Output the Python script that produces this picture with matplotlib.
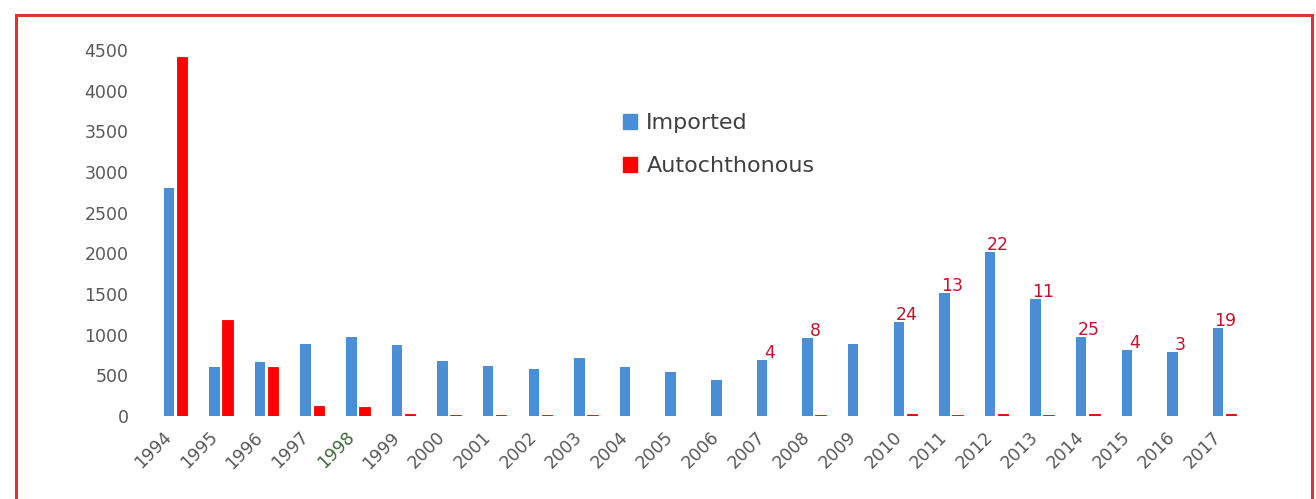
"""Imported vs autochthonous malaria cases per year, grouped bar chart."""

import matplotlib.pyplot as plt
import numpy as np
from matplotlib.patches import Patch, Rectangle

years = ["1994", "1995", "1996", "1997", "1998", "1999", "2000", "2001",
         "2002", "2003", "2004", "2005", "2006", "2007", "2008", "2009",
         "2010", "2011", "2012", "2013", "2014", "2015", "2016", "2017"]
imported = [2800, 605, 660, 890, 975, 875, 680, 620,
            580, 715, 605, 540, 445, 690, 955, 885,
            1160, 1510, 2020, 1440, 975, 810, 790, 1080]
autochthonous = [4410, 1180, 600, 125, 105, 30, 12, 10,
                 12, 12, 0, 0, 0, 4, 8, 0,
                 24, 13, 22, 11, 25, 4, 3, 19]
# case counts are printed above the bars from 2007 on
label_from = "2007"
yticks = [0, 500, 1000, 1500, 2000, 2500, 3000, 3500, 4000, 4500]

BLUE = "#4a8fd6"
RED = "#ff0000"
LABEL_RED = "#c8102e"
GREY = "#595959"

plt.rcParams["font.family"] = ["DejaVu Sans"]

W, H = 1316, 499
fig = plt.figure(figsize=(W / 100, H / 100), dpi=100)
ax = fig.add_axes([148 / W, (H - 416) / H, 1104 / W, 366 / H])

x = np.arange(len(years))
bw = 0.23
off = 0.143
ax.bar(x - off, imported, bw, color=BLUE, linewidth=0, label="Imported")
# thin outline keeps the tiny counts visible as a hairline
edges = [RED if v > 0 else "none" for v in autochthonous]
ax.bar(x + off, autochthonous, bw, color=RED, edgecolor=edges,
       linewidth=0.6, label="Autochthonous")

start = years.index(label_from)
for i in range(start, len(years)):
    if autochthonous[i] == 0:
        continue
    ax.annotate(str(autochthonous[i]), (x[i] + 0.02, imported[i]),
                xytext=(0, 1.5), textcoords="offset points",
                ha="center", va="baseline", fontsize=12.5, color=LABEL_RED)

ax.set_xlim(-0.6, 23.6)
ax.set_ylim(0, 4500)
ax.set_yticks(yticks)
ax.set_yticklabels([str(v) for v in yticks], fontsize=12.5, color=GREY)
ax.set_xticks(x)
ax.set_xticklabels(years, rotation=45, ha="right", va="bottom",
                   rotation_mode="anchor", fontsize=12.5, color=GREY)
ax.get_xticklabels()[years.index("1998")].set_color("#3f6a3a")
ax.tick_params(axis="y", length=0, pad=14)
ax.tick_params(axis="x", length=0, pad=18)
for s in ax.spines.values():
    s.set_visible(False)

handles = [Patch(color=BLUE), Patch(color=RED)]
fig.legend(handles, ["Imported", "Autochthonous"], loc="upper left",
           bbox_to_anchor=(623 / W, 1 - 113 / H), frameon=False,
           fontsize=16, handlelength=0.65, handleheight=0.65,
           handletextpad=0.4, labelspacing=1.05, borderpad=0,
           borderaxespad=0, labelcolor="#404040")

# red border round the figure (bottom edge runs off the image)
fig.add_artist(Rectangle((15.5 / W, -0.1), (1312 - 15.5) / W,
                         (H - 15) / H + 0.1, transform=fig.transFigure,
                         fill=False, edgecolor="#e03434", lw=2.2))

fig.savefig("out.png", dpi=100)
